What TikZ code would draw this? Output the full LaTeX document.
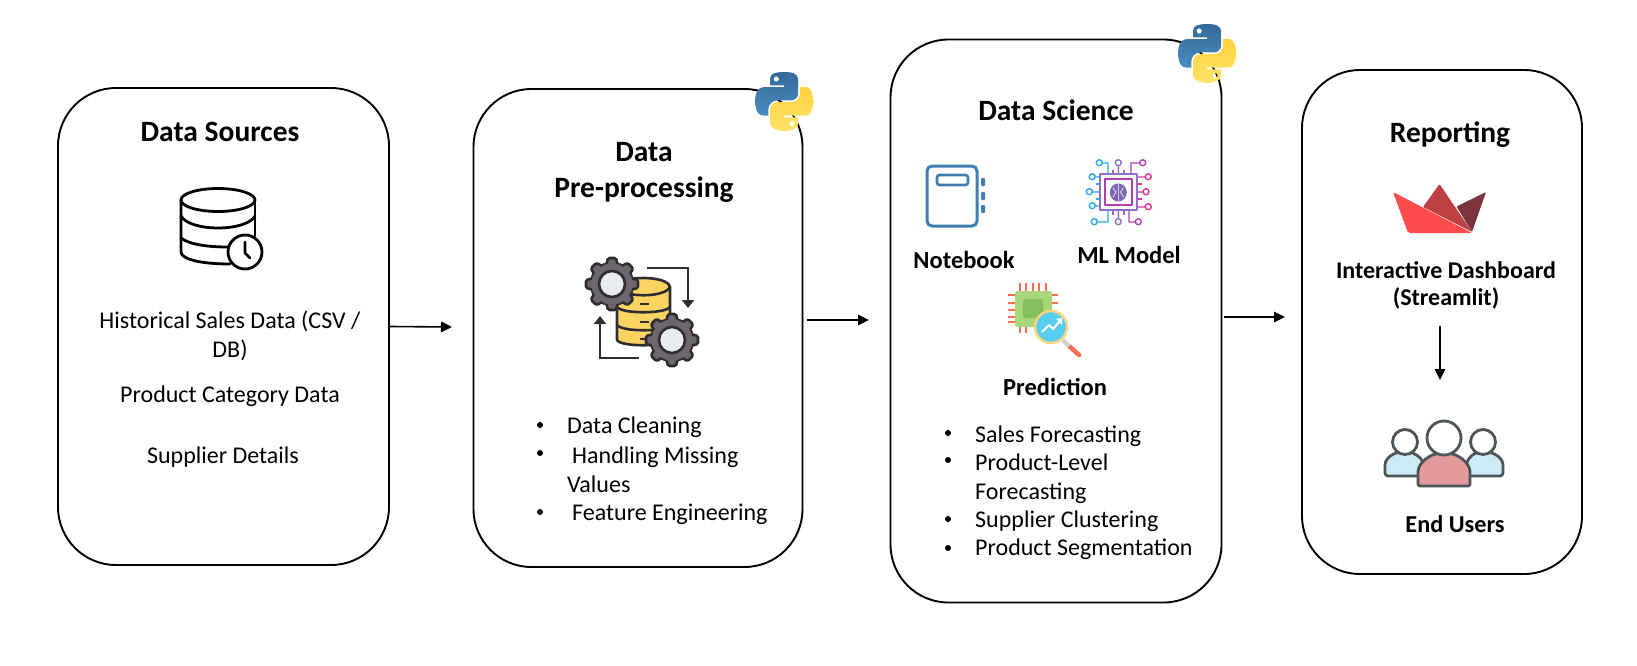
\documentclass[tikz,border=0pt]{standalone}
\usepackage{fontspec}
\setmainfont{Carlito}
\usetikzlibrary{arrows.meta,svg.path,calc}
\definecolor{gearc}{HTML}{6F6570}
\definecolor{gearl}{HTML}{E8ECEF}
\definecolor{gearo}{HTML}{2E2E32}
\definecolor{dbyel}{HTML}{FCD462}
\definecolor{nbblue}{HTML}{3F7DB5}
\definecolor{pinred}{HTML}{FA6E50}
\definecolor{pyblueA}{HTML}{4A8CC0}
\definecolor{pyblueB}{HTML}{356A98}
\definecolor{pyyelA}{HTML}{FFE36A}
\definecolor{pyyelB}{HTML}{FFD23F}
\definecolor{slA}{HTML}{FF4B4B}
\definecolor{slB}{HTML}{BD4043}
\definecolor{slC}{HTML}{7D353B}
\definecolor{uout}{HTML}{4C5559}
\definecolor{ublue}{HTML}{CFEAF7}
\definecolor{upink}{HTML}{E29A9A}
\definecolor{chipA}{HTML}{A8D67A}
\definecolor{chipB}{HTML}{85BE5C}
\definecolor{lensb}{HTML}{5BCDF0}
\definecolor{lensr}{HTML}{F9D77E}
\definecolor{mlA}{HTML}{2BA9E6}
\definecolor{mlB}{HTML}{8F6FC8}
\definecolor{mlC}{HTML}{B040B8}
\definecolor{mlD}{HTML}{E0309A}
\definecolor{mlE}{HTML}{7E68B4}
\tikzset{
  card/.style={draw=black,line width=1.9pt,fill=white,rounded corners=58pt,inner sep=0pt},
  title/.style={font=\fontsize{29.5}{36.5}\selectfont\bfseries,align=center,inner sep=0pt},
  sub/.style={font=\fontsize{24.5}{28}\selectfont\bfseries,align=center,inner sep=0pt},
  body/.style={font=\fontsize{24}{28}\selectfont,anchor=base,inner sep=0pt},
  lbody/.style={font=\fontsize{24}{28}\selectfont,anchor=base west,inner sep=0pt},
  bul/.style={fill=black,circle,minimum size=6pt,inner sep=0pt},
  flow/.style={-{Triangle[length=11pt,width=10.5pt]},line width=1.6pt,black},
  dbline/.style={line width=2.8pt,black,line cap=round,line join=round},
  gline/.style={line width=2.6pt,gearo,line join=round},
  gflow/.style={line width=2.8pt,gearo,-{Triangle[length=8pt,width=12pt]}},
  mlt/.style={line width=1.4pt,line join=round},
  pin/.style={line width=1.7pt,pinred},
  uline/.style={line width=2.8pt,draw=uout,line join=round},
}
\newcommand{\pylogo}[2]{%
\begin{scope}[shift={(#1,#2)},yscale=-1,scale=0.525]
\path[even odd rule,top color=pyblueB,bottom color=pyblueA]
  svg {M54.9,0 C50.3,0.02 45.96,0.41 42.1,1.09 C30.76,3.1 28.7,7.29 28.7,15.03 L28.7,25.25 L55.51,25.25 L55.51,28.66 L18.64,28.66 C10.84,28.66 4.02,33.34 1.89,42.25 C-0.57,52.46 -0.68,58.84 1.89,69.5 C3.79,77.44 8.35,83.09 16.14,83.09 L25.36,83.09 L25.36,70.84 C25.36,61.99 33.02,54.19 42.11,54.19 L68.89,54.19 C76.34,54.19 82.3,48.05 82.3,40.56 L82.3,15.03 C82.3,7.77 76.17,2.31 68.89,1.09 C64.28,0.33 59.5,-0.02 54.9,0 Z M40.42,8.22 C43.19,8.22 45.45,10.52 45.45,13.34 C45.45,16.16 43.19,18.44 40.42,18.44 C37.64,18.44 35.39,16.16 35.39,13.34 C35.39,10.52 37.64,8.22 40.42,8.22 Z};
\path[even odd rule,top color=pyyelB,bottom color=pyyelA]
  svg {M85.64,28.66 L85.64,40.56 C85.64,49.79 77.81,57.56 68.89,57.56 L42.11,57.56 C34.77,57.56 28.7,63.84 28.7,71.19 L28.7,96.72 C28.7,103.98 35.02,108.26 42.11,110.34 C50.59,112.83 58.73,113.28 68.89,110.34 C75.64,108.38 82.3,104.45 82.3,96.72 L82.3,86.5 L55.51,86.5 L55.51,83.09 L95.7,83.09 C103.49,83.09 106.4,77.66 109.11,69.5 C111.91,61.1 111.79,53.02 109.11,42.25 C107.18,34.49 103.5,28.66 95.7,28.66 Z M70.58,93.31 C73.36,93.31 75.61,95.59 75.61,98.41 C75.61,101.23 73.36,103.53 70.58,103.53 C67.81,103.53 65.55,101.23 65.55,98.41 C65.55,95.59 67.81,93.31 70.58,93.31 Z};
\end{scope}}
\newcommand{\gearicon}[2]{%
\begin{scope}[shift={(#1,#2)}]
\draw[gline,fill=gearc] (0,0) circle[radius=21];
\foreach \a in {0,45,...,315}{
  \draw[gline,fill=gearc,rotate=\a,rounded corners=1.5pt] (-6,-18) -- (-4,-26) -- (4,-26) -- (6,-18) -- cycle;}
\fill[gearc] (0,0) circle[radius=20.5];
\draw[gline,fill=gearl] (0,0) circle[radius=13];
\end{scope}}
\begin{document}
\begin{tikzpicture}[x=1pt,y=-1pt]
\useasboundingbox (0,0) rectangle (1637,666);
\fill[white] (0,0) rectangle (1637,666);
% cards
\node[card,minimum width=331pt,minimum height=477pt] (box1) at (223.5,326.5) {};
\node[card,minimum width=329pt,minimum height=478pt] (box2) at (638,328) {};
\node[card,minimum width=331pt,minimum height=563pt] (box3) at (1056,321) {};
\node[card,minimum width=280pt,minimum height=504pt] (box4) at (1442,322) {};
% titles
\node[title] (t1) at (220,132) {Data Sources};
\node[title] (t2) at (644,172.5) {Data\\Pre-processing};
\node[title] (t3) at (1056,110) {Data Science};
\node[title] (t4) at (1450,135) {Reporting};
% box 1 text
\node[body] (s1a) at (230,328) {Historical Sales Data (CSV /};
\node[body] (s1d) at (230,357) {DB)};
\node[body] (s1b) at (230,402) {Product Category Data};
\node[body] (s1c) at (223,463) {Supplier Details};
% database clock icon
\draw[dbline] (218,200) ellipse[x radius=37,y radius=11.5];
\draw[dbline] (181,200) -- (181,252) .. controls (181,259) and (200,264) .. (230,264);
\draw[dbline] (255,200) -- (255,236);
\draw[dbline] (181,216) .. controls (190,232) and (246,232) .. (255,216);
\draw[dbline] (181,238) .. controls (190,245) and (210,247) .. (228,247);
\draw[dbline,fill=white] (245,252) circle[radius=17];
\draw[dbline] (245,242) -- (245,253) -- (250,258);
% box 2 bullets
\node[bul] (b2a) at (540,425) {};
\node[lbody] (l2a) at (567,433) {Data Cleaning};
\node[bul] (b2b) at (540,453) {};
\node[lbody] (l2b) at (572,463) {Handling Missing};
\node[lbody] (l2c) at (567,492) {Values};
\node[bul] (b2d) at (540,512) {};
\node[lbody] (l2d) at (572,520) {Feature Engineering};
% gears icon
\draw[gline,fill=dbyel] (617,287) -- (617,340) .. controls (620,347) and (667,347) .. (670,340) -- (670,287) .. controls (668,275) and (619,275) .. (617,287) -- cycle;
\draw[gline] (617,287) .. controls (622,298) and (665,298) .. (670,287);
\draw[gline] (617,307) .. controls (622,314) and (665,314) .. (670,307);
\draw[gline] (617,325) .. controls (622,332) and (665,332) .. (670,325);
\draw[line width=2.6pt,gearo] (640,304) -- (649,304) (640,322) -- (649,322) (640,339) -- (649,339);
\gearicon{612}{284}
\gearicon{672}{340}
\draw[gflow] (647,268) -- (688,268) -- (688,308);
\draw[gflow] (639,358) -- (600,358) -- (600,316);
\pylogo{755}{72}
\pylogo{1178}{24}
% notebook icon
\draw[line width=3pt,nbblue,rounded corners=5pt] (927,166) rectangle (977,226);
\draw[line width=2.6pt,nbblue,rounded corners=2.5pt] (937,175) rectangle (968,185);
\foreach \yy in {178,192,205}{
  \fill[nbblue,rounded corners=1pt] (981,\yy) rectangle (985,\yy+8);}
\node[sub] (nb) at (964,260) {Notebook};
% ML chip icon
\draw[mlt,mlA] (1099.3,162.7) circle[radius=3] (1102,163) -- (1108,163) -- (1108,174);
\draw[mlt,mlB] (1118.3,162.7) circle[radius=3] (1118.3,166) -- (1118.3,174);
\draw[mlt,mlC] (1142.7,162.7) circle[radius=3] (1140,163) -- (1131,163) -- (1131,174);
\draw[mlt,mlD] (1148.3,176.7) circle[radius=3] (1145,177) -- (1137,177);
\draw[mlt,mlD] (1146,191.7) circle[radius=3] (1143,192) -- (1137,192);
\draw[mlt,mlD] (1148.3,206.7) circle[radius=3] (1145,207) -- (1137,207);
\draw[mlt,mlA] (1094.3,221.7) circle[radius=3] (1097,222) -- (1108,222) -- (1108,210);
\draw[mlt,mlB] (1118.3,221.7) circle[radius=3] (1118.3,218.5) -- (1118.3,210);
\draw[mlt,mlC] (1138.3,221.7) circle[radius=3] (1135,222) -- (1129,222) -- (1129,210);
\draw[mlt,mlA] (1092.3,176.7) circle[radius=3] (1095.5,177) -- (1100,177);
\draw[mlt,mlA] (1089.3,191.7) circle[radius=3] (1092.5,192) -- (1100,192);
\draw[mlt,mlA] (1092.3,205.7) circle[radius=3] (1095.5,206) -- (1100,206);
\draw[mlt,mlB] (1113,169.5) -- (1113,174) (1124,169.5) -- (1124,174) (1113,210) -- (1113,214.5) (1124,210) -- (1124,214.5);
\draw[mlt,mlA] (1095.5,184) -- (1100,184) (1095.5,199) -- (1100,199);
\draw[mlt,mlD] (1137,184) -- (1141.5,184) (1137,199) -- (1141.5,199);
\draw[mlt,draw=mlB,fill=white] (1100,174) rectangle (1137,210);
\draw[mlt,draw=mlC] (1105,179) rectangle (1132,205);
\fill[mlE] (1118.3,192.5) ellipse[x radius=8.5,y radius=9];
\draw[white,line width=0.6pt] (1118.3,184) -- (1118.3,201) (1113,188) -- (1116,192) -- (1113,197) (1123.5,188) -- (1120.5,192) -- (1123.5,197);
\node[sub] (ml) at (1129,255) {ML Model};
% prediction icon
\foreach \xx in {1020,1026,1033,1039,1046}{\draw[pin] (\xx,283) -- (\xx,291);}
\foreach \yy in {295,303,310,317,322}{\draw[pin] (1008,\yy) -- (1015,\yy);}
\foreach \xx in {1020,1026}{\draw[pin] (\xx,327) -- (\xx,333);}
\foreach \yy in {295,303}{\draw[pin] (1052,\yy) -- (1058,\yy);}
\fill[chipA,rounded corners=2.5pt] (1015,291) rectangle (1052,327);
\fill[chipB,rounded corners=2pt] (1023,299) rectangle (1043,318);
\draw[line width=4.5pt,pinred,line cap=round] (1069,346) -- (1079,355);
\draw[line width=4.5pt,gray!35] (1063,340) -- (1069,346);
\draw[line width=2.5pt,draw=lensr,fill=lensb] (1051,327) circle[radius=16];
\draw[white,line width=2pt,line join=round] (1042,332) -- (1049,325) -- (1053,329) -- (1060,321);
\fill[white] (1062,318) -- (1062,325) -- (1056,319) -- cycle;
\node[sub] (pr) at (1055,387) {Prediction};
% box 3 bullets
\node[bul] (b3a) at (948,433) {};
\node[lbody] (l3a) at (975,442) {Sales Forecasting};
\node[bul] (b3b) at (948,460) {};
\node[lbody] (l3b) at (975,470) {Product-Level};
\node[lbody] (l3c) at (975,499) {Forecasting};
\node[bul] (b3d) at (948,519) {};
\node[lbody] (l3d) at (975,527) {Supplier Clustering};
\node[bul] (b3e) at (948,548) {};
\node[lbody] (l3e) at (975,555) {Product Segmentation};
% streamlit boat
\fill[slC,rounded corners=1pt] (1456.5,206.5) -- (1486,192) -- (1472,232) -- cycle;
\fill[slB,rounded corners=1pt] (1423,207) -- (1439.5,184) -- (1472,232) -- cycle;
\fill[slA,rounded corners=2pt] (1393,192) -- (1408,233) -- (1472,233) -- cycle;
% reporting text
\node[sub,font=\fontsize{24}{27.5}\selectfont\bfseries] (dash) at (1446,285.5) {Interactive Dashboard\\(Streamlit)};
\node[sub,font=\fontsize{24.3}{28}\selectfont\bfseries] (eu) at (1455,524) {End Users};
% users icon
\draw[uline,fill=ublue,rounded corners=3pt] (1385,476) -- (1385,468) .. controls (1385,458) and (1394,452) .. (1405,452) .. controls (1414,452) and (1422,458) .. (1424,466) -- (1424,476) -- cycle;
\draw[uline,fill=ublue,rounded corners=3pt] (1466,476) -- (1466,466) .. controls (1468,458) and (1474,452) .. (1483,452) .. controls (1494,452) and (1503,458) .. (1503,468) -- (1503,476) -- cycle;
\draw[uline,fill=white] (1405,442) circle[radius=12.5];
\draw[uline,fill=white] (1483,442) circle[radius=12.5];
\draw[uline,fill=upink,rounded corners=2pt] (1418,486) -- (1418,474) .. controls (1418,463) and (1430,453) .. (1444,453) .. controls (1458,453) and (1470,463) .. (1470,474) -- (1470,486) -- cycle;
\draw[uline,fill=white] (1444,438) circle[radius=17];
% connectors
\coordinate (e1) at (452,327);
\coordinate (s2) at (807,320);
\coordinate (e2) at (869,320);
\coordinate (s3) at (1224,317);
\coordinate (e3) at (1285,317);
\coordinate (s4) at (1440,326);
\coordinate (e4) at (1440,380);
\draw[flow] (box1.east) -- (e1);
\draw[flow] (s2) -- (e2);
\draw[flow] (s3) -- (e3);
\draw[flow] (s4) -- (e4);
\end{tikzpicture}
\end{document}
